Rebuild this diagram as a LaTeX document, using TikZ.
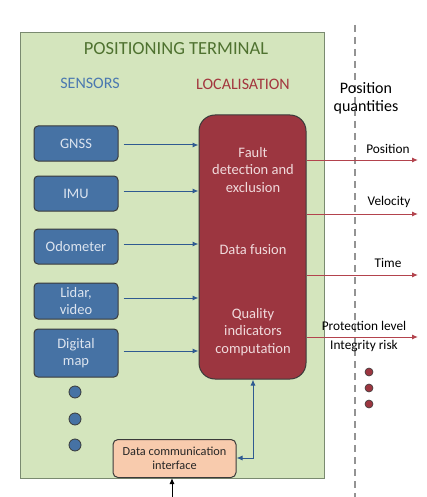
\documentclass[tikz,border=0pt]{standalone}
\usepackage{fontspec}
\setmainfont{Carlito}
\usetikzlibrary{arrows.meta}
\definecolor{termgreen}{HTML}{D4E5BD}
\definecolor{termgreenline}{HTML}{7A8A70}
\definecolor{titlegreen}{HTML}{4F7230}
\definecolor{sensblue}{HTML}{4672A4}
\definecolor{sensbluetxt}{HTML}{4A78B0}
\definecolor{senstext}{HTML}{DCE4EF}
\definecolor{locred}{HTML}{9C3640}
\definecolor{loctxt}{HTML}{A3363E}
\definecolor{redtext}{HTML}{F0DADC}
\definecolor{arrowblue}{HTML}{2F5A91}
\definecolor{outred}{HTML}{B3434D}
\definecolor{peach}{HTML}{F8CBAD}
\definecolor{boxline}{HTML}{3A3A3A}
\tikzset{
  sensorbox/.style={draw=boxline, line width=1pt, fill=sensblue, rounded corners=4pt,
    text=senstext, font=\fontsize{14.5}{16.5}\selectfont, align=center},
  inarrow/.style={draw=arrowblue, line width=1pt, -{Latex[length=6pt,width=5pt]}},
  outarrow/.style={draw=outred, line width=1pt, -{Latex[length=6pt,width=5pt]}},
  outlabel/.style={font=\fontsize{13.3}{14}\selectfont, text=black},
  sensdot/.style={circle, draw=boxline, line width=0.8pt, fill=sensblue, minimum size=12pt, inner sep=0pt},
  reddot/.style={circle, draw=boxline, line width=0.6pt, fill=locred, minimum size=8pt, inner sep=0pt},
}
\begin{document}
\begin{tikzpicture}[x=1pt, y=-1pt]
\useasboundingbox (0,0) rectangle (426,497);
% terminal
\node[draw=termgreenline, line width=1.2pt, fill=termgreen, minimum width=304pt, minimum height=446pt, inner sep=0pt, anchor=north west] (term) at (20,32) {};
\node[text=titlegreen, font=\fontsize{18.5}{20}\selectfont] (title) at (176,49) {POSITIONING TERMINAL};
\node[text=sensbluetxt, font=\fontsize{16}{18}\selectfont] (sens) at (90,83) {SENSORS};
\node[text=loctxt, font=\fontsize{16}{18}\selectfont] (loc) at (243,84) {LOCALISATION};
% dashed separator
\coordinate (dtop) at (355,25);
\coordinate (dbot) at (355,497);
\draw[draw=gray!85, line width=1.5pt, dash pattern=on 7pt off 5pt] (dtop) -- (dbot);
\node[align=center, font=\fontsize{16}{18}\selectfont] (pq) at (366,98) {Position\\quantities};
% sensors
\node[sensorbox, minimum width=84pt, minimum height=35pt] (gnss) at (76,143.5) {GNSS};
\node[sensorbox, minimum width=84pt, minimum height=35pt] (imu) at (76,193.5) {IMU};
\node[sensorbox, minimum width=84pt, minimum height=35pt] (odo) at (76,246.5) {Odometer};
\node[sensorbox, minimum width=84pt, minimum height=36pt] (lidar) at (76,301) {Lidar,\\video};
\node[sensorbox, minimum width=84pt, minimum height=48pt] (map) at (76,353) {Digital\\map};
\node[sensdot] (d1) at (75,392) {};
\node[sensdot] (d2) at (75,419) {};
\node[sensdot] (d3) at (75,445) {};
% localisation box
\node[draw=boxline, line width=1pt, fill=locred, rounded corners=16pt, minimum width=107pt, minimum height=264pt, inner sep=0pt] (locbox) at (252.5,247) {};
\node[text=redtext, align=center, font=\fontsize{14.5}{17.5}\selectfont] (fde) at (253,170) {Fault\\detection and\\exclusion};
\node[text=redtext, font=\fontsize{14.5}{16}\selectfont] (fus) at (253,250) {Data fusion};
\node[text=redtext, align=center, font=\fontsize{14.5}{17.5}\selectfont] (qic) at (253,332) {Quality\\indicators\\computation};
% input arrows
\draw[inarrow] (gnss.east) ++(5,1.5) coordinate (g1) -- (g1 -| locbox.west);
\draw[inarrow] (imu.east) ++(5,-2.5) coordinate (i1) -- (i1 -| locbox.west);
\draw[inarrow] (odo.east) ++(5,-2.5) coordinate (o1) -- (o1 -| locbox.west);
\draw[inarrow] (lidar.east) ++(5,-3) coordinate (l1) -- (l1 -| locbox.west);
\draw[inarrow] (map.east) ++(5,-2) coordinate (m1) -- (m1 -| locbox.west);
% outputs
\coordinate (e1) at (418,160);
\coordinate (e2) at (418,214);
\coordinate (e3) at (418,275);
\coordinate (e4) at (418,337);
\draw[outarrow] (e1 -| locbox.east) -- (e1);
\draw[outarrow] (e2 -| locbox.east) -- (e2);
\draw[outarrow] (e3 -| locbox.east) -- (e3);
\draw[outarrow] (e4 -| locbox.east) -- (e4);
\node[outlabel] (lpos) at (388,149) {Position};
\node[outlabel] (lvel) at (389,202) {Velocity};
\node[outlabel] (ltime) at (388,263) {Time};
\node[outlabel] (lprot) at (364,326) {Protection level};
\node[outlabel] (lint) at (364,346) {Integrity risk};
\node[reddot] (r1) at (369,372) {};
\node[reddot] (r2) at (369,388) {};
\node[reddot] (r3) at (369,404) {};
% interface
\node[draw=boxline, line width=1pt, fill=peach, rounded corners=5pt, minimum width=123pt, minimum height=38pt, align=center, font=\fontsize{12.3}{14}\selectfont, text=black!85] (dci) at (174.5,458.5) {Data communication\\interface};
\coordinate (corner) at (253,458);
\draw[draw=arrowblue, line width=1pt, {Latex[length=6pt,width=5pt]}-{Latex[length=6pt,width=5pt]}] (dci.east |- corner) -- (corner) -- (locbox.south -| corner);
\coordinate (inb) at (172,497);
\draw[draw=black, line width=1pt, -{Latex[length=6pt,width=5pt]}] (inb) -- (inb |- dci.south);
\end{tikzpicture}
\end{document}
